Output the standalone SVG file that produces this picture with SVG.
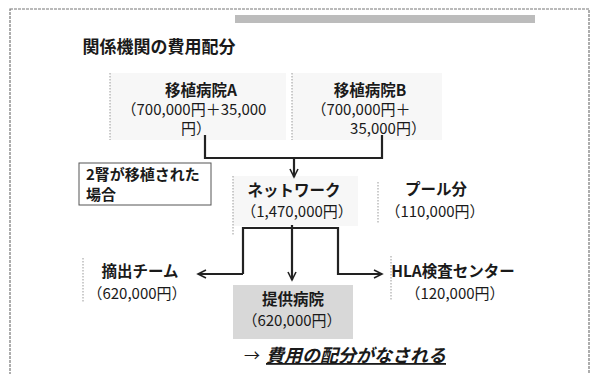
<svg xmlns="http://www.w3.org/2000/svg" width="595" height="374" viewBox="0 0 595 374">
<defs>
<style>
text{font-family:"Noto Sans CJK JP","Liberation Sans",sans-serif;fill:#1a1a1a;text-anchor:middle}
.n{font-size:15px}
.h{font-size:15.5px;font-weight:bold}
.bg{fill:#f7f7f7;stroke:none}
.edge{stroke:#999;stroke-width:1;stroke-dasharray:1.5 1.5;fill:none}
.c{stroke:#222;stroke-width:2.2;fill:none}
</style>
<marker id="ah" markerUnits="userSpaceOnUse" markerWidth="12" markerHeight="12" refX="9" refY="5" orient="auto">
<path d="M1,1 L9,5 L1,9" fill="none" stroke="#222" stroke-width="1.6"/>
</marker>
</defs>
<rect x="10" y="9" width="579" height="380" fill="#fff" stroke="#777" stroke-width="1.2" stroke-dasharray="3 1"/>
<rect x="235" y="15" width="300" height="8" fill="#bcbcbc"/>
<text x="159" y="53" style="font-size:17px;font-weight:bold">関係機関の費用配分</text>
<g id="hospitalA">
<rect class="bg" x="110" y="73" width="176" height="67"/>
<path class="edge" d="M110,73 V140"/>
<text class="h" x="201" y="96">移植病院A</text>
<text class="n" x="194" y="115">（700,000円＋35,000</text>
<text class="n" x="196" y="134">円）</text>
</g>
<g id="hospitalB">
<rect class="bg" x="292" y="73" width="150" height="67"/>
<path class="edge" d="M292,73 V140"/>
<text class="h" x="370" y="96">移植病院B</text>
<text class="n" x="361" y="115">（700,000円＋</text>
<text class="n" x="388" y="134">35,000円）</text>
</g>
<g id="note">
<rect x="79" y="163" width="132" height="42" fill="#fff" stroke="#555" stroke-width="1"/>
<text x="86" y="180" style="text-anchor:start;font-size:15px;font-weight:bold">2腎が移植された</text>
<text x="86" y="200" style="text-anchor:start;font-size:15px;font-weight:bold">場合</text>
</g>
<g id="network">
<rect class="bg" x="233" y="176" width="125" height="50"/>
<path class="edge" d="M233,176 V235"/>
<text class="h" x="294" y="196">ネットワーク</text>
<text class="n" x="297" y="217">（1,470,000円）</text>
</g>
<g id="pool">
<path class="edge" d="M378,182 V224"/>
<text class="h" x="436" y="195">プール分</text>
<text class="n" x="435" y="217">（110,000円）</text>
</g>
<g id="team">
<path class="edge" d="M83,258 V302"/>
<text class="h" x="140" y="277">摘出チーム</text>
<text class="n" x="137" y="299">（620,000円）</text>
</g>
<g id="donor">
<rect x="233" y="285" width="120" height="54" fill="#d8d8d8"/>
<text class="h" x="293" y="305">提供病院</text>
<text class="n" x="292" y="326">（620,000円）</text>
</g>
<g id="hla">
<path class="edge" d="M391,256 V301"/>
<text class="h" x="453" y="277">HLA検査センター</text>
<text class="n" x="455" y="299">（120,000円）</text>
</g>
<g id="connectors">
<path class="c" d="M205,135 V158 H382 V135"/>
<path class="c" d="M294,158 V177" marker-end="url(#ah)"/>
<path class="c" d="M292,225 V280" marker-end="url(#ah)"/>
<path class="c" d="M243,274 V228 H338 V274 H382" marker-end="url(#ah)"/>
<path class="c" d="M243,274 H198" marker-end="url(#ah)"/>
</g>
<g id="conclusion">
<text x="252" y="361" style="font-size:16px">→</text>
<text x="356" y="362" style="font-size:18px;font-weight:bold;font-style:italic;text-decoration:underline">費用の配分がなされる</text>
</g>
</svg>
